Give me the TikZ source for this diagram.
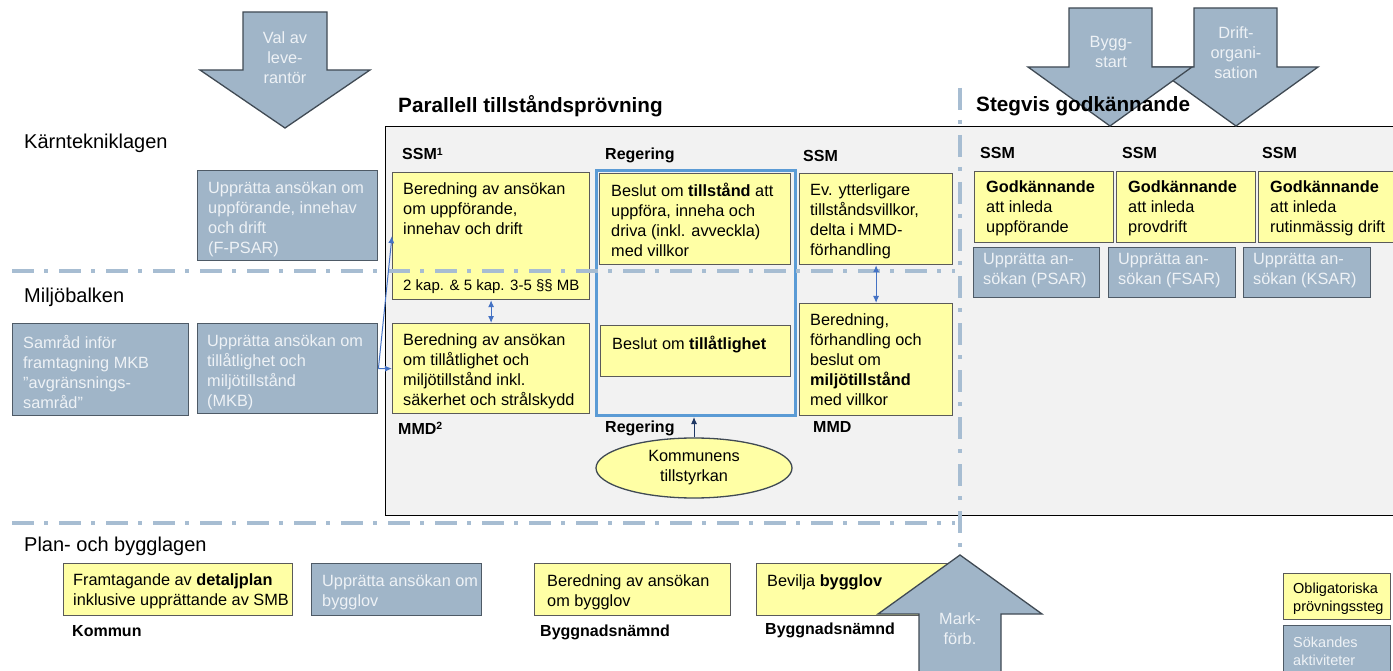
\documentclass[tikz,border=0pt]{standalone}
\usepackage{fontspec}
\setmainfont{Liberation Sans}
\usetikzlibrary{arrows.meta,shapes.geometric}
\definecolor{yfill}{HTML}{FFFFA5}
\definecolor{ybord}{HTML}{5A5A5A}
\definecolor{gfill}{HTML}{A0B5C8}
\definecolor{gbord}{HTML}{4E5A66}
\definecolor{abord}{HTML}{404A54}
\definecolor{gtext}{HTML}{EEF2F6}
\definecolor{dline}{HTML}{A7BDD2}
\definecolor{panel}{HTML}{F2F2F2}
\definecolor{frameblue}{HTML}{5B9BD5}
\definecolor{connblue}{HTML}{4472C4}
\definecolor{navy}{HTML}{1F3864}
\newcommand\bodyfont{\fontsize{16.3}{20}\selectfont}
\newcommand\smallbody{\fontsize{15}{18}\selectfont}
\newcommand\labfont{\fontsize{16}{19}\selectfont\bfseries}
\newcommand\sectfont{\fontsize{20}{24}\selectfont}
\newcommand\headfont{\fontsize{20.7}{24}\selectfont\bfseries}
\newcommand\legfont{\fontsize{14.5}{17.5}\selectfont}
\newcommand\supnum[1]{\raisebox{4.2pt}{\fontsize{10.5}{10.5}\selectfont #1}}
\newcommand\mybox[6]{\node[#1, minimum width={(#5-#3)*1pt}, minimum height={(#6-#4)*1pt}] (#2) at (#3,#4) {};}
\tikzset{
 yb/.style={draw=ybord, fill=yfill, line width=1.2pt, inner sep=0pt, anchor=north west},
 gb/.style={draw=gbord, fill=gfill, line width=1.4pt, inner sep=0pt, anchor=north west},
 tx/.style={anchor=north west, align=left, inner sep=0pt, font=\bodyfont},
 gtx/.style={tx, text=gtext},
 lab/.style={anchor=base west, inner sep=0pt, font=\labfont},
 sect/.style={anchor=base west, inner sep=0pt, font=\sectfont},
 head/.style={anchor=base west, inner sep=0pt, font=\headfont},
 arrowshape/.style={draw=abord, fill=gfill, line width=1.3pt, line join=miter},
 atx/.style={align=center, inner sep=0pt, text=gtext, font=\bodyfont},
 dashline/.style={draw=dline, line width=4pt, dash pattern=on 22pt off 10pt on 4pt off 11pt},
 conn/.style={draw=connblue, line width=1pt, -{Latex[length=7pt,width=6pt]}},
 dbl/.style={draw=connblue, line width=1pt, {Latex[length=7pt,width=6pt]}-{Latex[length=7pt,width=6pt]}},
 navyarr/.style={draw=navy, line width=1pt, -{Latex[length=7pt,width=6pt]}},
}
\begin{document}
\begin{tikzpicture}[x=1pt,y=-1pt]
\useasboundingbox (0,0) rectangle (1393,671);
\clip (0,0) rectangle (1393,671);
\fill[white] (0,0) rectangle (1393,671);

% main panel
\node[draw=black, fill=panel, line width=1.2pt, inner sep=0pt, anchor=north west, minimum width=1030pt, minimum height=389pt] (panel) at (385,126) {};

% top arrows
\draw[arrowshape] (243,12) -- (327,12) -- (327,70) -- (370,70) -- (285,128) -- (200,70) -- (243,70) -- cycle;
\node[atx] (valtxt) at (285,58) {Val av\\leve-\\rantör};
\draw[arrowshape] (1194,8) -- (1277,8) -- (1277,67) -- (1318,67) -- (1236,126) -- (1154,67) -- (1194,67) -- cycle;
\draw[arrowshape] (1069,8) -- (1152,8) -- (1152,67) -- (1192,67) -- (1110,126) -- (1028,67) -- (1069,67) -- cycle;
\node[atx] (byggtxt) at (1111,52) {Bygg-\\start};
\node[atx] (drifttxt) at (1236,53) {Drift-\\organi-\\sation};

% vertical dash line
\draw[dashline] (960,88) -- (960,560);

% section labels and headers
\node[sect] (karn) at (24,149) {Kärntekniklagen};
\node[sect] (miljo) at (24,302) {Miljöbalken};
\node[sect] (pbl) at (24,551) {Plan- och bygglagen};
\node[head] (par) at (398,113) {Parallell tillståndsprövning};
\node[head] (steg) at (976,112) {Stegvis godkännande};

% gray applicant boxes
\mybox{gb}{fpsar}{197}{170}{377}{260}
\node[gtx] at ([shift={(11,11)}]fpsar.north west) {Upprätta ansökan om\\uppförande, innehav\\och drift\\(F-PSAR)};
\mybox{gb}{mkb}{197}{323}{377}{413}
\node[gtx] at ([shift={(10,11)}]mkb.north west) {Upprätta ansökan om\\tillåtlighet och\\miljötillstånd\\(MKB)};
\mybox{gb}{samrad}{12}{323}{188}{415}
\node[gtx] at ([shift={(11,12)}]samrad.north west) {Samråd inför\\framtagning MKB\\”avgränsnings-\\samråd”};

% SSM / MMD column
\mybox{yb}{b1}{392}{172}{589}{299}
\node[tx] at ([shift={(11,10)}]b1.north west) {Beredning av ansökan\\om uppförande,\\innehav och drift};
\node[tx, font=\smallbody] at ([shift={(11,107)}]b1.north west) {2 kap. \& 5 kap. 3-5 §§ MB};
\mybox{yb}{b2}{392}{323}{589}{413}
\node[tx] at ([shift={(11,10)}]b2.north west) {Beredning av ansökan\\om tillåtlighet och\\miljötillstånd inkl.\\säkerhet och strålskydd};
\node[lab] (ssm1) at (402,160) {SSM\supnum{1}};
\node[lab] (mmd2) at (398,434) {MMD\supnum{2}};

% Regering frame
\node[draw=frameblue, line width=3pt, inner sep=0pt, anchor=north west, minimum width=199pt, minimum height=245pt] (reg) at (595,169) {};
\mybox{yb}{r1}{599}{173}{790}{264}
\node[tx] at ([shift={(12,10)}]r1.north west) {Beslut om \textbf{tillstånd} att\\uppföra, inneha och\\driva (inkl. avveckla)\\med villkor};
\mybox{yb}{r2}{600}{325}{790}{376}
\node[tx] at ([shift={(12,11)}]r2.north west) {Beslut om \textbf{tillåtlighet}};
\node[lab] (reg1) at (605,160) {Regering};
\node[lab] (reg2) at (605,432) {Regering};

% SSM / MMD right column
\mybox{yb}{s1}{799}{173}{952}{264}
\node[tx] at ([shift={(11,10)}]s1.north west) {Ev. ytterligare\\tillståndsvillkor,\\delta i MMD-\\förhandling};
\mybox{yb}{s2}{799}{303}{952}{415}
\node[tx] at ([shift={(11,10)}]s2.north west) {Beredning,\\förhandling och\\beslut om\\\textbf{miljötillstånd}\\med villkor};
\node[lab] (ssm2) at (803,162) {SSM};
\node[lab] (mmd) at (813,432) {MMD};

% Kommunens tillstyrkan
\node[ellipse, draw=abord, fill=yfill, line width=1.3pt, minimum width=196pt, minimum height=60pt, inner sep=0pt, align=center, font=\bodyfont] (kom) at (694,468) {Kommunens\\tillstyrkan};

% stepwise approval
\node[lab] (ssma) at (980,159) {SSM};
\node[lab] (ssmb) at (1122,159) {SSM};
\node[lab] (ssmc) at (1262,159) {SSM};
\mybox{yb}{g1}{974}{171}{1113}{242}
\node[tx] at ([shift={(12,9)}]g1.north west) {\textbf{Godkännande}\\att inleda\\uppförande};
\mybox{yb}{g2}{1116}{171}{1255}{242}
\node[tx] at ([shift={(12,9)}]g2.north west) {\textbf{Godkännande}\\att inleda\\provdrift};
\mybox{yb}{g3}{1258}{171}{1400}{242}
\node[tx] at ([shift={(12,9)}]g3.north west) {\textbf{Godkännande}\\att inleda\\rutinmässig drift};
\mybox{gb}{p1}{973}{247}{1099}{297}
\node[gtx] at ([shift={(10,6)}]p1.north west) {Upprätta an-\\sökan (PSAR)};
\mybox{gb}{p2}{1108}{247}{1235}{297}
\node[gtx] at ([shift={(10,6)}]p2.north west) {Upprätta an-\\sökan (FSAR)};
\mybox{gb}{p3}{1243}{247}{1370}{297}
\node[gtx] at ([shift={(10,6)}]p3.north west) {Upprätta an-\\sökan (KSAR)};

% bottom row
\mybox{yb}{detalj}{63}{563}{292}{615}
\node[tx] at ([shift={(10,10)}]detalj.north west) {Framtagande av \textbf{detaljplan}\\inklusive upprättande av SMB};
\node[lab] (kommun) at (72,636) {Kommun};
\mybox{gb}{bygglovans}{311}{563}{481}{615}
\node[gtx] at ([shift={(11,11)}]bygglovans.north west) {Upprätta ansökan om\\bygglov};
\mybox{yb}{beredbygg}{534}{563}{730}{615}
\node[tx] at ([shift={(13,11)}]beredbygg.north west) {Beredning av ansökan\\om bygglov};
\node[lab] (bn1) at (540,636) {Byggnadsnämnd};
\mybox{yb}{bevilja}{756}{563}{952}{615}
\node[tx] at ([shift={(11,11)}]bevilja.north west) {Bevilja \textbf{bygglov}};
\node[lab] (bn2) at (765,634) {Byggnadsnämnd};

% dash-dot horizontal lines
\draw[dashline] (12,271) -- (955,271);
\draw[dashline] (12,523) -- (955,523);

% connectors
\draw[conn] (mkb.east) -- (b1.west);
\draw[conn] (mkb.east) -- (b2.west);
\draw[dbl] (b1.south) -- (b2.north);
\draw[dbl] (s1.south) -- (s2.north);
\draw[navyarr] (kom.north) -- (kom.north |- reg.south);

% Mark-förb arrow
\draw[arrowshape] (919,690) -- (919,614) -- (878,614) -- (960,555) -- (1042,614) -- (1001,614) -- (1001,690) -- cycle;
\node[atx] (marktxt) at (960,629) {Mark-\\förb.};

% legend
\mybox{yb}{leg1}{1283}{573}{1390}{619}
\node[tx, font=\legfont] at ([shift={(10,10)}]leg1.north west) {Obligatoriska\\prövningssteg};
\mybox{gb}{leg2}{1283}{625}{1390}{690}
\node[gtx, font=\legfont] at ([shift={(10,12)}]leg2.north west) {Sökandes\\aktiviteter};
\end{tikzpicture}
\end{document}
